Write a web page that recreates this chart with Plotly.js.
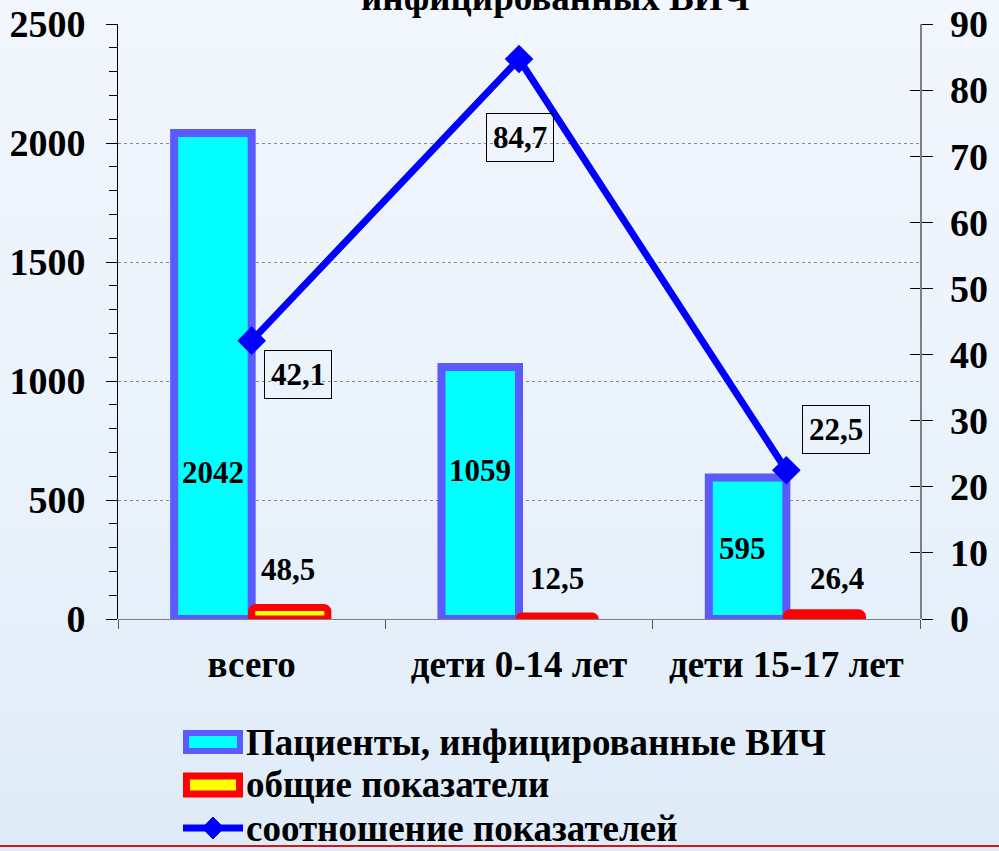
<!DOCTYPE html>
<html>
<head>
<meta charset="utf-8">
<script src="https://cdn.plot.ly/plotly-3.0.1.min.js"></script>
<style>
  html, body { margin:0; padding:0; width:999px; height:851px; overflow:hidden;
    background: linear-gradient(to bottom, #f2f6fd 0%, #e9f2fb 60%, #deebf8 100%); }
  #chart { width:999px; height:851px; position:absolute; left:0; top:0; }
  #redline { position:absolute; left:0; top:845px; width:999px; height:2px; background:#d01818; }
</style>
</head>
<body>
<div id="chart"></div>
<div id="redline"></div>
<script>
// ---- data ----
const categories = ['всего', 'дети 0-14 лет', 'дети 15-17 лет'];
const patients = [2042, 1059, 595];            // Пациенты, инфицированные ВИЧ (left axis)
const general = [48.5, 12.5, 26.4];             // общие показатели (left axis)
const ratio = [42.1, 84.7, 22.5];               // соотношение показателей (right axis)
const seriesNames = ['Пациенты, инфицированные ВИЧ', 'общие показатели', 'соотношение показателей'];
const titleText = 'инфицированных ВИЧ';

const fmt = v => String(v).replace('.', ',');
const FONT = 'Liberation Serif, Times New Roman, serif';

// plot-area geometry (pixels) used for the hand-drawn legend
const PL = 118, PR = 920, PT = 24, PB = 619;
const W = 999, H = 851;
const px = x => (x - PL) / (PR - PL);
const py = y => (PB - y) / (PB - PT);

const traces = [
  {
    type: 'bar', x: categories, y: patients, name: seriesNames[0],
    width: 0.29, offset: -0.29, showlegend: false,
    marker: { color: '#00ffff', line: { color: '#5a5aff', width: 8 } },
    hoverinfo: 'skip'
  },
  {
    type: 'bar', x: categories, y: general, name: seriesNames[1],
    width: 0.285, offset: 0, showlegend: false,
    marker: { color: '#ffff00', line: { color: '#ff0000', width: 7 }, cornerradius: 4 },
    hoverinfo: 'skip'
  },
  {
    type: 'scatter', mode: 'lines+markers', x: categories, y: ratio, yaxis: 'y2',
    name: seriesNames[2], showlegend: false,
    line: { color: '#0000ff', width: 7 },
    marker: { symbol: 'diamond', size: 22, color: '#0000ff' },
    hoverinfo: 'skip'
  },
  // helper for the inner half of the crossing ticks on the right axis
  { type: 'scatter', x: categories, y: ratio, yaxis: 'y3', mode: 'none', showlegend: false, hoverinfo: 'skip' }
];

// label placement (positions only, not data)
const barLabelY = [617, 626, 298];
const barLabelDx = [-39, -39, -44];
const genLabelY = [210, 172, 172];
const genLabelDx = [36, 38, 51];
const ratioDx = [46, 1, 50];
const ratioDy = [-34, -78, 41];

const LBL = { family: FONT, size: 31, color: '#000', weight: 'bold' };
const annotations = [];
categories.forEach((c, i) => {
  annotations.push({ x: c, y: barLabelY[i], xref: 'x', yref: 'y', text: String(patients[i]),
    showarrow: false, xshift: barLabelDx[i], font: LBL });
  annotations.push({ x: c, y: genLabelY[i], xref: 'x', yref: 'y', text: fmt(general[i]),
    showarrow: false, xshift: genLabelDx[i], font: LBL });
  annotations.push({ x: c, y: ratio[i], xref: 'x', yref: 'y2', text: fmt(ratio[i]),
    showarrow: false, xshift: ratioDx[i], yshift: ratioDy[i],
    bordercolor: '#000', borderwidth: 1, borderpad: 6, bgcolor: 'rgba(0,0,0,0)', font: LBL });
});
annotations.push({ x: 0.545, y: 1, xref: 'paper', yref: 'paper', yanchor: 'bottom', yshift: 4,
  text: titleText, showarrow: false, font: { family: FONT, size: 37, color: '#000', weight: 'bold' } });

// legend (drawn): swatch box x 183..243, text from x 245
const legendRowsY = [742, 785, 828];
const LEGF = { family: FONT, size: 37, color: '#000', weight: 'bold' };
seriesNames.forEach((n, i) => {
  annotations.push({ x: px(244), y: py(legendRowsY[i]), xref: 'paper', yref: 'paper',
    xanchor: 'left', yanchor: 'middle', text: n, showarrow: false, font: LEGF });
});

const shapes = [];
// swatch 1: cyan with blue border
shapes.push({ type: 'rect', xref: 'paper', yref: 'paper', layer: 'above',
  x0: px(186), x1: px(240), y0: py(legendRowsY[0] - 9), y1: py(legendRowsY[0] + 9),
  fillcolor: '#00ffff', line: { color: '#5a5aff', width: 6 } });
// swatch 2: yellow with red border
shapes.push({ type: 'rect', xref: 'paper', yref: 'paper', layer: 'above',
  x0: px(186.5), x1: px(239.5), y0: py(legendRowsY[1] - 9), y1: py(legendRowsY[1] + 9),
  fillcolor: '#ffff00', line: { color: '#ff0000', width: 7 } });
// swatch 3: blue line with diamond
shapes.push({ type: 'line', xref: 'paper', yref: 'paper', layer: 'above',
  x0: px(183), x1: px(243), y0: py(legendRowsY[2]), y1: py(legendRowsY[2]),
  line: { color: '#0000ff', width: 7 } });
(function () {
  const cx = 213, cy = legendRowsY[2], d = 11;
  shapes.push({ type: 'path', xref: 'paper', yref: 'paper', layer: 'above',
    path: `M${px(cx - d)},${py(cy)} L${px(cx)},${py(cy - d)} L${px(cx + d)},${py(cy)} L${px(cx)},${py(cy + d)} Z`,
    fillcolor: '#0000ff', line: { color: '#0000ff', width: 1 } });
})();

const layout = {
  width: W, height: H,
  margin: { l: PL, r: W - PR, t: PT, b: H - PB, autoexpand: false },
  paper_bgcolor: 'rgba(0,0,0,0)', plot_bgcolor: 'rgba(0,0,0,0)',
  showlegend: false,
  barmode: 'overlay',
  font: { family: FONT, color: '#000', size: 36, weight: 'bold' },
  xaxis: {
    type: 'category', range: [-0.5, 2.5], automargin: false,
    showline: false, showgrid: false, zeroline: false,
    ticks: 'outside', tickson: 'boundaries', ticklen: 9, tickcolor: '#555',
    tickfont: { family: FONT, size: 37, weight: 'bold' },
    ticklabelstandoff: 20
  },
  yaxis: {
    range: [0, 2500], dtick: 500, tick0: 0, automargin: false,
    showline: true, linecolor: '#000', linewidth: 1,
    ticks: 'outside', ticklen: 11, tickcolor: '#000',
    minor: { dtick: 100, ticks: 'outside', ticklen: 8, tickcolor: '#000', showgrid: false },
    showgrid: true, gridcolor: '#8a8a8a', griddash: 'dot', gridwidth: 1,
    zeroline: true, zerolinecolor: '#808080', zerolinewidth: 1,
    tickfont: { family: FONT, size: 38, weight: 'bold' },
    ticklabelstandoff: 13
  },
  yaxis2: {
    overlaying: 'y', side: 'right', range: [0, 90], dtick: 10, tick0: 0, automargin: false,
    showline: true, linecolor: '#808080', linewidth: 1.5,
    ticks: 'outside', ticklen: 11, tickcolor: '#000',
    showgrid: false, zeroline: false,
    tickfont: { family: FONT, size: 38, weight: 'bold' },
    ticklabelstandoff: 10
  },
  yaxis3: {
    overlaying: 'y', side: 'right', range: [0, 90], dtick: 10, tick0: 0, automargin: false,
    showline: false, ticks: 'inside', ticklen: 10, tickcolor: '#000',
    showticklabels: false, showgrid: false, zeroline: false
  },
  annotations: annotations,
  shapes: shapes
};

Plotly.newPlot('chart', traces, layout, { staticPlot: true, displayModeBar: false });
</script>
</body>
</html>
